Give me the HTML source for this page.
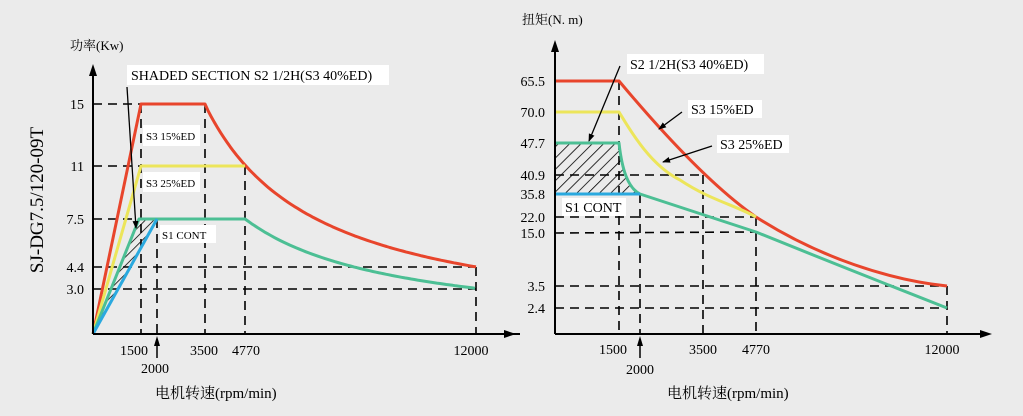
<!DOCTYPE html>
<html><head><meta charset="utf-8"><style>
html,body{margin:0;padding:0;background:#ebebeb;}
svg{display:block;font-family:"Liberation Serif","Noto Serif CJK SC",serif;}
</style></head><body>
<svg width="1023" height="416" viewBox="0 0 1023 416" xmlns="http://www.w3.org/2000/svg">
<defs>
<pattern id="h" width="8" height="8" patternUnits="userSpaceOnUse" patternTransform="rotate(45)">
<line x1="0" y1="0" x2="0" y2="8" stroke="#000" stroke-width="1.6"/>
</pattern>
<pattern id="h2" width="6" height="6" patternUnits="userSpaceOnUse" patternTransform="rotate(45)">
<line x1="0" y1="0" x2="0" y2="6" stroke="#000" stroke-width="1.6"/>
</pattern>
<marker id="ar" markerWidth="8" markerHeight="8" refX="7" refY="4" orient="auto" markerUnits="userSpaceOnUse"><path d="M0,1 L8,4 L0,7 z" fill="#000"/></marker>
</defs>
<rect width="1023" height="416" fill="#ebebeb"/>

<!-- LEFT CHART -->
<g stroke="#000" stroke-width="1.6" stroke-dasharray="9,6" fill="none">
<line x1="93" y1="104" x2="141" y2="104"/>
<line x1="93" y1="166" x2="245" y2="166"/>
<line x1="93" y1="219" x2="141" y2="219"/>
<line x1="93" y1="267" x2="476" y2="267"/>
<line x1="93" y1="289" x2="476" y2="289"/>
<line x1="141" y1="104" x2="141" y2="334"/>
<line x1="157" y1="219" x2="157" y2="334"/>
<line x1="205" y1="104" x2="205" y2="334"/>
<line x1="245" y1="166" x2="245" y2="334"/>
<line x1="476" y1="267" x2="476" y2="334"/>
</g>
<polygon points="93,334 139,219 157,219" fill="url(#h2)"/>
<g fill="none" stroke-width="3" stroke-linejoin="round">
<path id="lr" stroke="#e8452c"/>
<path d="M93,334 L141,166 L245,166" stroke="#ece55a"/>
<path id="lg" stroke="#4cbf94"/>
<path d="M93,334 L157,219" stroke="#2aa9df"/>
</g>
<g stroke="#000" stroke-width="2" fill="none">
<line x1="93" y1="334" x2="93" y2="70"/>
<line x1="93" y1="334" x2="520" y2="334"/>
</g>
<path d="M93,64 L89,76 L97,76 z" fill="#000"/>
<line x1="157" y1="358" x2="157" y2="340" stroke="#000" stroke-width="1.5"/>
<path d="M157,336 L154,346 L160,346 z" fill="#000"/>
<rect x="127" y="65" width="262" height="20" fill="#fff"/>
<text x="131" y="80" font-size="14">SHADED SECTION S2 1/2H(S3 40%ED)</text>
<line x1="127" y1="87" x2="136" y2="228" stroke="#000" stroke-width="1.3" marker-end="url(#ar)"/>
<rect x="143" y="125" width="57" height="21" fill="#fff"/>
<text x="146" y="140" font-size="11">S3 15%ED</text>
<rect x="143" y="172" width="57" height="20" fill="#fff"/>
<text x="146" y="187" font-size="11">S3 25%ED</text>
<rect x="160" y="225" width="56" height="18" fill="#fff"/>
<text x="162" y="239" font-size="11">S1 CONT</text>
<g font-size="14" text-anchor="end">
<text x="84" y="109">15</text><text x="84" y="171">11</text><text x="84" y="224">7.5</text>
<text x="84" y="272">4.4</text><text x="84" y="294">3.0</text>
</g>
<g font-size="14" text-anchor="middle">
<text x="134" y="355">1500</text><text x="155" y="373">2000</text><text x="204" y="355">3500</text>
<text x="246" y="355">4770</text><text x="471" y="355">12000</text>
</g>
<text x="70" y="50" font-size="13">功率(Kw)</text>
<text x="155" y="398" font-size="15">电机转速(rpm/min)</text>
<text transform="translate(43,200) rotate(-90)" font-size="19" text-anchor="middle">SJ-DG7.5/120-09T</text>

<!-- RIGHT CHART -->
<g stroke="#000" stroke-width="1.6" stroke-dasharray="9,6" fill="none">
<line x1="555" y1="175" x2="703" y2="175"/>
<line x1="555" y1="217" x2="756" y2="217"/>
<line x1="555" y1="233" x2="756" y2="232"/>
<line x1="555" y1="286" x2="947" y2="286"/>
<line x1="555" y1="308" x2="947" y2="308"/>
<line x1="619" y1="81" x2="619" y2="334"/>
<line x1="640" y1="194" x2="640" y2="334"/>
<line x1="703" y1="175" x2="703" y2="334"/>
<line x1="756" y1="217" x2="756" y2="334"/>
<line x1="947" y1="286" x2="947" y2="334"/>
</g>
<path d="M555,143 L619,143 C622,170 628,188 640,194 L555,194 z" fill="url(#h)"/>
<g fill="none" stroke-width="3" stroke-linejoin="round">
<path d="M555,81 L619,81 C660,130 710,185 756,217 C820,258 890,280 947,286" stroke="#e8452c"/>
<path d="M555,112 L619,112 C630,130 650,165 680,180 C710,200 735,205 756,217" stroke="#ece55a"/>
<path d="M555,143 L619,143 C622,170 628,188 640,194 L756,232 Q850,270 947,308" stroke="#4cbf94"/>
<path d="M555,194 L640,194" stroke="#2aa9df"/>
</g>
<g stroke="#000" stroke-width="2" fill="none">
<line x1="555" y1="334" x2="555" y2="46"/>
<line x1="555" y1="334" x2="985" y2="334"/>
<line x1="500" y1="334" x2="510" y2="334"/>
</g>
<path d="M555,40 L551,52 L559,52 z" fill="#000"/>
<path d="M992,334 L980,330 L980,338 z" fill="#000"/>
<path d="M516,334 L504,330 L504,338 z" fill="#000"/>
<line x1="640" y1="358" x2="640" y2="340" stroke="#000" stroke-width="1.5"/>
<path d="M640,336 L637,346 L643,346 z" fill="#000"/>
<rect x="627" y="54" width="137" height="20" fill="#fff"/>
<text x="630" y="69" font-size="14">S2  1/2H(S3 40%ED)</text>
<line x1="620" y1="66" x2="589" y2="141" stroke="#000" stroke-width="1.3" marker-end="url(#ar)"/>
<rect x="688" y="100" width="74" height="18" fill="#fff"/>
<text x="691" y="114" font-size="14">S3 15%ED</text>
<line x1="682" y1="112" x2="659" y2="129" stroke="#000" stroke-width="1.3" marker-end="url(#ar)"/>
<rect x="717" y="135" width="72" height="18" fill="#fff"/>
<text x="720" y="149" font-size="14">S3 25%ED</text>
<line x1="712" y1="146" x2="663" y2="162" stroke="#000" stroke-width="1.3" marker-end="url(#ar)"/>
<rect x="562" y="198" width="64" height="18" fill="#fff"/>
<text x="565" y="212" font-size="14">S1 CONT</text>
<g font-size="14" text-anchor="end">
<text x="545" y="86">65.5</text><text x="545" y="117">70.0</text><text x="545" y="148">47.7</text>
<text x="545" y="180">40.9</text><text x="545" y="199">35.8</text><text x="545" y="222">22.0</text>
<text x="545" y="238">15.0</text><text x="545" y="291">3.5</text><text x="545" y="313">2.4</text>
</g>
<g font-size="14" text-anchor="middle">
<text x="613" y="354">1500</text><text x="640" y="374">2000</text><text x="703" y="354">3500</text>
<text x="756" y="354">4770</text><text x="942" y="354">12000</text>
</g>
<text x="522" y="24" font-size="13">扭矩(N. m)</text>
<text x="667" y="398" font-size="15">电机转速(rpm/min)</text>
</svg>
<script>
function X(n){return 93+n*(476-93)/12000}function Y(p){return 334-p*15.33}
var r="M93,334 L141,104 L205,104",g="M93,334 L139,219 L245,219";
for(var n=3600;n<=12000;n+=100)r+=" L"+X(n).toFixed(1)+","+Y(15*3500/n).toFixed(1);
for(var n=4870;n<=12000;n+=100)g+=" L"+X(n).toFixed(1)+","+Y(7.5*4770/n).toFixed(1);
document.getElementById("lr").setAttribute("d",r);document.getElementById("lg").setAttribute("d",g);
</script>
</body></html>
